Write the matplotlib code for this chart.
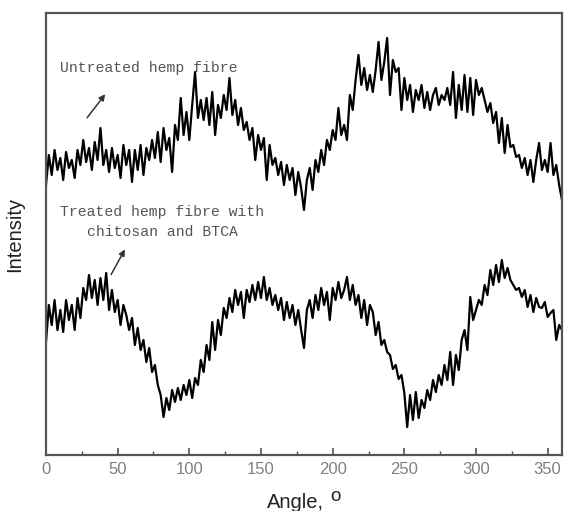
import matplotlib.pyplot as plt
import numpy as np
from matplotlib.ticker import MultipleLocator

# 扫描角度, 每 2 度一个点
angle = np.arange(0, 361, 2)

# 未处理的大麻纤维
untreated = [
    270, 300, 280, 305, 285, 297, 275, 303, 287, 295,
    277, 305, 290, 315, 293, 307, 285, 313, 295, 327,
    290, 305, 283, 307, 287, 300, 277, 310, 290, 305,
    273, 305, 285, 310, 280, 307, 295, 315, 297, 323,
    293, 327, 305, 317, 283, 330, 315, 357, 320, 343,
    315, 350, 383, 337, 355, 335, 357, 330, 363, 320,
    350, 337, 360, 345, 377, 340, 355, 330, 347, 325,
    333, 315, 327, 295, 320, 305, 317, 275, 310, 290,
    297, 280, 293, 270, 290, 275, 287, 260, 283, 267,
    245, 275, 287, 265, 295, 283, 305, 290, 315, 305,
    325, 315, 347, 320, 330, 315, 360, 345, 375, 400,
    370, 387, 365, 380, 363, 385, 413, 375, 393, 417,
    360, 395, 383, 387, 345, 377, 355, 370, 343, 365,
    355, 370, 347, 363, 345, 360, 367, 350, 360, 355,
    367, 350, 383, 337, 370, 345, 380, 343, 377, 340,
    375, 360, 367, 355, 343, 352, 332, 343, 312, 337,
    302, 330, 308, 310, 298, 300, 287, 297, 280, 295,
    273, 295, 312, 285, 295, 283, 312, 280, 290, 270,
    255,
]

# 壳聚糖和 BTCA 处理后的大麻纤维
treated = [
    113, 150, 130, 155, 125, 145, 123, 155, 135, 150,
    125, 157, 137, 167, 155, 180, 157, 175, 150, 177,
    155, 182, 145, 165, 143, 155, 130, 150, 140, 125,
    137, 110, 127, 105, 115, 93, 107, 83, 90, 70,
    60, 38, 57, 45, 65, 53, 67, 55, 70, 60,
    75, 57, 77, 70, 95, 83, 110, 95, 133, 105,
    135, 120, 147, 137, 157, 143, 165, 150, 163, 137,
    165, 153, 170, 155, 173, 157, 178, 155, 167, 150,
    160, 145, 157, 135, 153, 137, 150, 130, 145, 125,
    107, 145, 155, 137, 160, 145, 167, 150, 163, 135,
    167, 155, 173, 157, 165, 178, 155, 170, 150, 160,
    137, 155, 130, 150, 143, 120, 133, 110, 115, 103,
    100, 86, 90, 76, 80, 62, 28, 60, 35, 63,
    37, 55, 47, 65, 55, 75, 63, 80, 70, 90,
    75, 103, 70, 100, 85, 115, 125, 105, 158, 135,
    145, 155, 150, 170, 160, 185, 170, 190, 173, 195,
    177, 187, 175, 170, 165, 167, 158, 165, 148, 160,
    143, 157, 148, 147, 153, 138, 142, 145, 115, 130,
    125,
]

plt.rcParams['font.family'] = ['Liberation Sans', 'DejaVu Sans']

fig = plt.figure(figsize=(5.65, 5.11), dpi=100)
ax = fig.add_axes([0.0814, 0.1096, 0.9133, 0.865])

ax.plot(angle, untreated, color='black', linewidth=1.6)
ax.plot(angle, treated, color='black', linewidth=1.6)

ax.set_xlim(0, 360)
ax.set_ylim(0, 442)

# 坐标轴: 只有下方刻度, 朝内
for side in ['left', 'right', 'top', 'bottom']:
    ax.spines[side].set_color('#555555')
    ax.spines[side].set_linewidth(1.6)
ax.xaxis.set_major_locator(MultipleLocator(50))
ax.xaxis.set_minor_locator(MultipleLocator(25))
ax.tick_params(axis='x', which='major', direction='in', length=5,
               width=1.2, color='#555555', labelsize=12,
               labelcolor='#808080', pad=5)
ax.tick_params(axis='x', which='minor', direction='in', length=3,
               width=1.0, color='#555555')
ax.set_yticks([])

ax.set_ylabel('Intensity', fontsize=14.5, color='#222222', labelpad=16)

# x 轴标题, 度的符号 o 单独抬高
fig.text(267 / 565, 1 - 508 / 511, 'Angle,', fontsize=14.5, color='#222222',
         ha='left', va='baseline')
fig.text(330 / 565, 1 - 501 / 511, 'o', fontsize=13.5, color='#222222',
         ha='left', va='baseline')

# 曲线标注
mono = ['Liberation Mono', 'DejaVu Sans Mono']
ax.text(10, 387, 'Untreated hemp fibre', family=mono, fontsize=10.6,
        color='#555555', va='center')
ax.annotate('', xy=(42.5, 363), xycoords='data', xytext=(27.5, 335),
            textcoords='data',
            arrowprops=dict(arrowstyle='-|>', color='#333333', lw=1.1,
                            mutation_scale=9))
ax.text(81, 233, 'Treated hemp fibre with\nchitosan and BTCA', family=mono,
        fontsize=10.6, color='#555555', ha='center', va='center',
        multialignment='center', linespacing=1.5)
ax.annotate('', xy=(56, 208), xycoords='data', xytext=(44.5, 178),
            textcoords='data',
            arrowprops=dict(arrowstyle='-|>', color='#333333', lw=1.1,
                            mutation_scale=9))

plt.savefig('out.png', dpi=100)
